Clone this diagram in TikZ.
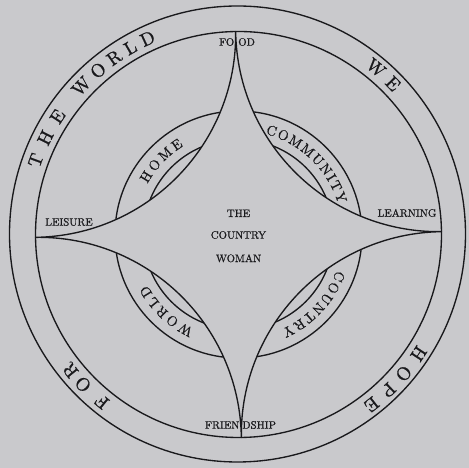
\documentclass[tikz,border=0pt]{standalone}
\usepackage{fontspec}
\newfontfamily\heavy{lmroman10-regular}[Extension=.otf, FakeBold=0.8]
\usetikzlibrary{calc}
\definecolor{bg}{RGB}{201,201,204}
\definecolor{ink}{RGB}{25,25,28}
\begin{document}
\begin{tikzpicture}[x=1pt,y=1pt, line width=1.35pt, line join=round,
  ringtxt/.style={text=ink, font=\heavy\fontsize{18.5}{18.5}\selectfont, inner sep=0pt},
  lenstxt/.style={text=ink, font=\heavy\fontsize{14}{14}\selectfont, inner sep=0pt},
  lbl/.style={text=ink, font=\heavy\fontsize{10.8}{12}\selectfont, inner sep=0pt}]
\fill[bg] (0,0) rectangle (469,468);
\useasboundingbox (0,0) rectangle (469,468);
\coordinate (C) at (238.5,233.5);
% rings
\draw[ink] (237.5,234) circle[radius=228];
\draw[ink] (C) circle[radius=203];
\draw[ink] (C) circle[radius=123.5];
\draw[ink] (C) circle[radius=95];
% four-pointed star
\begin{scope}[shift={(238.5,233.5)}, rotate=0.8]
\path[fill=bg, draw=ink] (0,203)
  arc[start angle=0, end angle=-90, radius=203]
  arc[start angle=90, end angle=0, radius=203]
  arc[start angle=180, end angle=90, radius=203]
  arc[start angle=270, end angle=180, radius=203] -- cycle;
\end{scope}
% ring text
\foreach \ch/\ang [count=\i] in {T/159.9, H/153.4, E/146.9, W/136.7, O/130.55, R/125.11, L/120.05, D/114.92,
    W/50.5, E/44.3, H/-33.5, O/-40.1, P/-46.1, E/-51.9, F/230.75, O/223.96, R/218.9}
  \node[ringtxt, rotate=\ang-90] (r\i) at ($(C)+(\ang:216)$) {\ch};
% lens text
\foreach \ch/\ang [count=\i] in {H/148, O/140.46, M/132.3, E/124.5,
    C/72.3, O/65.69, M/58.37, M/50.55, U/43.34, N/36.73, I/31.55, T/26.48, Y/19.98,
    C/-22.7, O/-29.4, U/-36.21, N/-42.91, T/-49.51, R/-56.06, Y/-62.71,
    W/240.9, O/232.55, R/225.27, L/218.55, D/211.73}
  \node[lenstxt, rotate=\ang-90] (l\i) at ($(C)+(\ang:109)$) {\ch};
% labels
\node[lbl] (food) at (237,426) {FO\hspace{4pt}OD};
\node[lbl] (friendship) at (240.5,43) {FRIEN\hspace{3pt}DSHIP};
\node[lbl] (leisure) at (69,246) {LEISURE};
\node[lbl] (learning) at (407,255) {LEARNING};
\node[lbl] (the) at (238.5,254.7) {THE};
\node[lbl] (country) at (238.5,233) {COUNTRY};
\node[lbl] (woman) at (238.5,209.7) {WOMAN};
\end{tikzpicture}
\end{document}
